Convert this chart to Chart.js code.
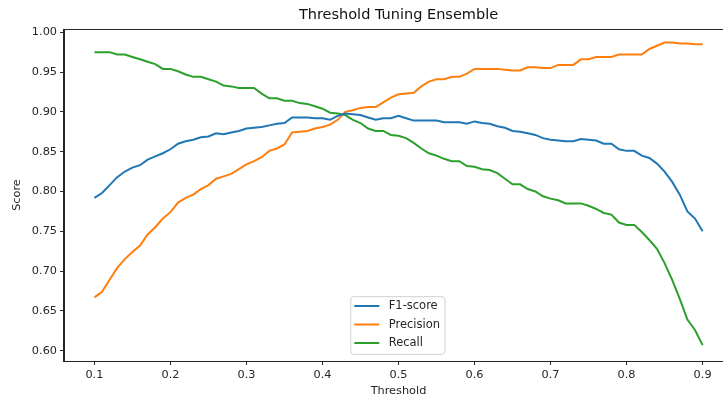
<!DOCTYPE html>
<html><head><meta charset="utf-8">
<script src="https://cdn.jsdelivr.net/npm/chart.js@4/dist/chart.umd.min.js"></script>
<style>
html,body{margin:0;padding:0;background:#fff;overflow:hidden}
#wrap{width:723px;height:399px;overflow:hidden;position:relative;background:#fff}
canvas{display:block}
</style>
</head><body><div id="wrap"><canvas id="c" width="735" height="399"></canvas></div>
<script>
const chartTitle = 'Threshold Tuning Ensemble';
const xLabel = 'Threshold';
const yLabel = 'Score';
const seriesNames = ['F1-score', 'Precision', 'Recall'];
const seriesColors = ['#1f77b4', '#ff7f0e', '#2ca02c'];

const thresholds = [0.10,0.11,0.12,0.13,0.14,0.15,0.16,0.17,0.18,0.19,
  0.20,0.21,0.22,0.23,0.24,0.25,0.26,0.27,0.28,0.29,
  0.30,0.31,0.32,0.33,0.34,0.35,0.36,0.37,0.38,0.39,
  0.40,0.41,0.42,0.43,0.44,0.45,0.46,0.47,0.48,0.49,
  0.50,0.51,0.52,0.53,0.54,0.55,0.56,0.57,0.58,0.59,
  0.60,0.61,0.62,0.63,0.64,0.65,0.66,0.67,0.68,0.69,
  0.70,0.71,0.72,0.73,0.74,0.75,0.76,0.77,0.78,0.79,
  0.80,0.81,0.82,0.83,0.84,0.85,0.86,0.87,0.88,0.89,0.90];

const f1Score = [0.792,0.798,0.808,0.818,0.825,0.830,0.833,0.840,0.844,0.848,
  0.853,0.860,0.863,0.865,0.868,0.869,0.873,0.872,0.874,0.876,
  0.879,0.880,0.881,0.883,0.885,0.886,0.893,0.893,0.893,0.892,
  0.892,0.890,0.895,0.898,0.897,0.896,0.893,0.890,0.892,0.892,
  0.895,0.892,0.889,0.889,0.889,0.889,0.887,0.887,0.887,0.885,
  0.888,0.886,0.885,0.882,0.880,0.876,0.875,0.873,0.871,0.867,
  0.865,0.864,0.863,0.863,0.866,0.865,0.864,0.860,0.860,0.853,
  0.851,0.851,0.845,0.842,0.835,0.825,0.812,0.796,0.775,0.766,0.750];

const precision = [0.667,0.674,0.689,0.704,0.715,0.724,0.732,0.746,0.755,0.766,
  0.774,0.786,0.792,0.796,0.803,0.808,0.816,0.819,0.822,0.828,
  0.834,0.838,0.843,0.851,0.854,0.859,0.874,0.875,0.876,0.879,
  0.881,0.884,0.890,0.900,0.902,0.905,0.906,0.906,0.912,0.918,
  0.922,0.923,0.924,0.932,0.938,0.941,0.941,0.944,0.944,0.948,
  0.954,0.954,0.954,0.954,0.953,0.952,0.952,0.956,0.956,0.955,
  0.955,0.959,0.959,0.959,0.966,0.966,0.969,0.969,0.969,0.972,
  0.972,0.972,0.972,0.979,0.983,0.987,0.987,0.986,0.986,0.985,0.985];

const recall = [0.975,0.975,0.975,0.972,0.972,0.969,0.966,0.963,0.960,0.954,
  0.954,0.951,0.947,0.944,0.944,0.941,0.938,0.933,0.932,0.930,
  0.930,0.930,0.923,0.917,0.917,0.914,0.914,0.911,0.910,0.907,
  0.904,0.899,0.898,0.896,0.890,0.886,0.879,0.876,0.876,0.871,
  0.870,0.867,0.861,0.854,0.848,0.845,0.841,0.838,0.838,0.832,
  0.831,0.828,0.827,0.823,0.816,0.809,0.809,0.803,0.800,0.794,
  0.791,0.789,0.785,0.785,0.785,0.782,0.778,0.773,0.771,0.761,
  0.758,0.758,0.749,0.739,0.728,0.710,0.689,0.665,0.639,0.626,0.607];

const xTicks = [0.1,0.2,0.3,0.4,0.5,0.6,0.7,0.8,0.9];
const yTicks = [0.60,0.65,0.70,0.75,0.80,0.85,0.90,0.95,1.00];

const FONT = 'DejaVu Sans';
Chart.defaults.font.family = FONT;
Chart.defaults.color = '#262626';

const seriesValues = [f1Score, precision, recall];
const datasets = seriesValues.map((vals, i) => ({
  label: seriesNames[i],
  data: thresholds.map((t, j) => ({x: t, y: vals[j]})),
  borderColor: seriesColors[i],
  backgroundColor: seriesColors[i],
  borderWidth: 2,
  pointRadius: 0,
  tension: 0,
  fill: false
}));

const framePlugin = {
  id: 'frame',
  afterDatasetsDraw(chart) {
    const {ctx, chartArea: a} = chart;
    ctx.save();
    ctx.strokeStyle = '#262626';
    ctx.lineWidth = 1;
    ctx.strokeRect(Math.round(a.left) - 0.5, Math.round(a.top) + 0.5, Math.round(a.right - a.left), Math.round(a.bottom - a.top));
    ctx.restore();
  }
};

const legendPlugin = {
  id: 'boxLegend',
  afterDraw(chart) {
    const {ctx, chartArea: a} = chart;
    ctx.save();
    ctx.font = '11.5px "' + FONT + '"';
    let maxW = 0;
    chart.data.datasets.forEach(d => { maxW = Math.max(maxW, ctx.measureText(d.label).width); });
    const padL = 3.5, lineLen = 25, gap = 9.4, padR = 5;
    const rowH = 18.5, padT = 9.3;
    const w = padL + lineLen + gap + maxW + padR;
    const h = 57.6;
    const cx = (a.left + a.right) / 2 - 0.6;
    const x = cx - w / 2;
    const y = a.bottom - 6.7 - h;
    const r = 3;
    ctx.beginPath();
    ctx.moveTo(x + r, y);
    ctx.lineTo(x + w - r, y);
    ctx.quadraticCurveTo(x + w, y, x + w, y + r);
    ctx.lineTo(x + w, y + h - r);
    ctx.quadraticCurveTo(x + w, y + h, x + w - r, y + h);
    ctx.lineTo(x + r, y + h);
    ctx.quadraticCurveTo(x, y + h, x, y + h - r);
    ctx.lineTo(x, y + r);
    ctx.quadraticCurveTo(x, y, x + r, y);
    ctx.closePath();
    ctx.fillStyle = 'rgba(255,255,255,0.8)';
    ctx.fill();
    ctx.strokeStyle = '#d0d0d0';
    ctx.lineWidth = 1;
    ctx.stroke();
    chart.data.datasets.forEach((d, i) => {
      const ry = y + padT + i * rowH;
      ctx.beginPath();
      ctx.moveTo(x + padL, ry);
      ctx.lineTo(x + padL + lineLen, ry);
      ctx.strokeStyle = d.borderColor;
      ctx.lineWidth = 2;
      ctx.stroke();
      ctx.fillStyle = '#262626';
      ctx.textBaseline = 'middle';
      ctx.textAlign = 'left';
      ctx.fillText(d.label, x + padL + lineLen + gap, ry + 0.5);
    });
    ctx.restore();
  }
};

new Chart(document.getElementById('c'), {
  type: 'line',
  data: { datasets },
  options: {
    responsive: false,
    animation: false,
    devicePixelRatio: 1,
    layout: { padding: { left: 0, right: 2, top: 0, bottom: 0 } },
    plugins: {
      legend: { display: false },
      tooltip: { enabled: false },
      title: {
        display: true,
        text: chartTitle,
        fullSize: false,
        color: '#111',
        font: { size: 14.5, weight: 'normal', family: FONT },
        padding: { top: 6.3, bottom: 5.3 }
      }
    },
    scales: {
      x: {
        type: 'linear',
        min: 0.06,
        max: 0.94,
        afterBuildTicks: s => { s.ticks = xTicks.map(v => ({ value: v })); },
        afterFit: s => { s.height = 38; },
        ticks: {
          font: { size: 11.3 },
          color: '#262626',
          padding: 3,
          maxRotation: 0,
          autoSkip: false,
          callback: v => Number(v).toFixed(1)
        },
        grid: { display: true, drawOnChartArea: false, drawTicks: true, tickLength: 4, color: '#262626' },
        border: { display: true, color: '#262626', width: 1 },
        title: { display: true, text: xLabel, font: { size: 11.3 }, color: '#262626', padding: { top: 0, bottom: 1.2 } }
      },
      y: {
        type: 'linear',
        min: 0.587,
        max: 1.0041,
        afterBuildTicks: s => { s.ticks = yTicks.map(v => ({ value: v })); },
        afterFit: s => { s.width = 64; },
        ticks: {
          font: { size: 11.3 },
          color: '#262626',
          padding: 3,
          autoSkip: false,
          callback: v => Number(v).toFixed(2)
        },
        grid: { display: true, drawOnChartArea: false, drawTicks: true, tickLength: 4, color: '#262626' },
        border: { display: true, color: '#262626', width: 1 },
        title: { display: true, text: yLabel, font: { size: 11.3 }, color: '#262626', padding: { top: 10.2, bottom: 0 } }
      }
    }
  },
  plugins: [framePlugin, legendPlugin]
});
</script>
</body></html>
